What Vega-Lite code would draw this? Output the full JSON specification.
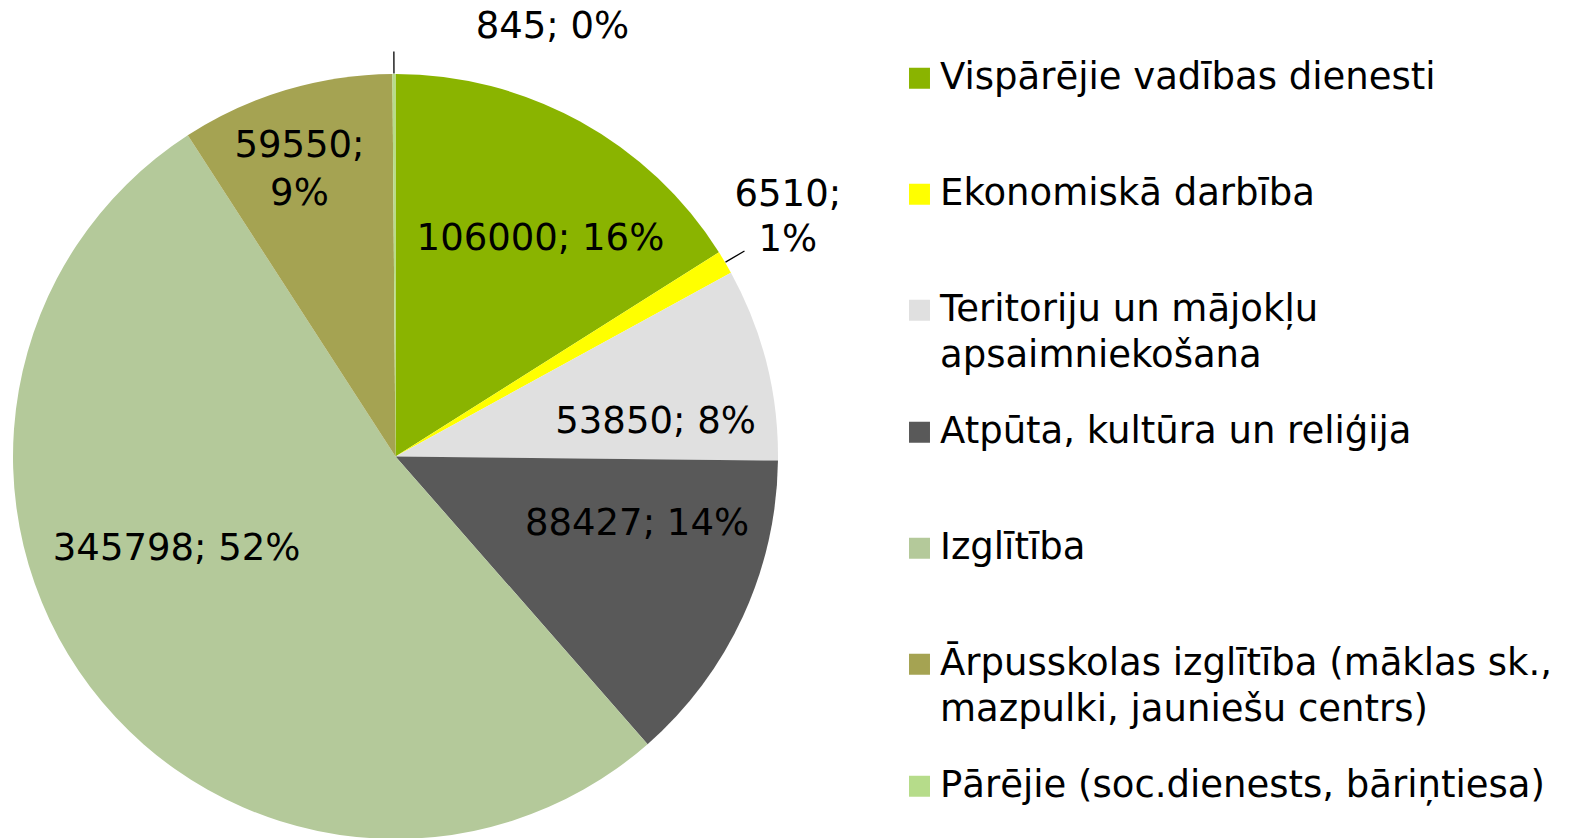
{
  "$schema": "https://vega.github.io/schema/vega-lite/v6.json",
  "autosize": {"type": "none"},
  "width": 765,
  "height": 765,
  "padding": {"left": 13, "top": 74, "right": 796, "bottom": 0},
  "background": "#ffffff",
  "config": {"view": {"stroke": null}},
  "data": {
    "values": [
      {"kategorija": "Vispārējie vadības dienesti", "vertiba": 106000, "etikete": "106000; 16%", "npk": 1},
      {"kategorija": "Ekonomiskā darbība", "vertiba": 6510, "etikete": "6510;\n1%", "npk": 2},
      {"kategorija": "Teritoriju un mājokļu\napsaimniekošana", "vertiba": 53850, "etikete": "53850; 8%", "npk": 3},
      {"kategorija": "Atpūta, kultūra un reliģija", "vertiba": 88427, "etikete": "88427; 14%", "npk": 4},
      {"kategorija": "Izglītība", "vertiba": 345798, "etikete": "345798; 52%", "npk": 5},
      {"kategorija": "Ārpusskolas izglītība (māklas sk.,\nmazpulki, jauniešu centrs)", "vertiba": 59550, "etikete": "59550;\n9%", "npk": 6},
      {"kategorija": "Pārējie (soc.dienests, bāriņtiesa)", "vertiba": 845, "etikete": "845; 0%", "npk": 7}
    ]
  },
  "layer": [
    {
      "mark": {"type": "arc"},
      "encoding": {
        "theta": {"field": "vertiba", "type": "quantitative", "stack": true},
        "order": {"field": "npk", "type": "quantitative"},
        "color": {
          "field": "kategorija",
          "type": "nominal",
          "scale": {
            "domain": [
              "Vispārējie vadības dienesti",
              "Ekonomiskā darbība",
              "Teritoriju un mājokļu\napsaimniekošana",
              "Atpūta, kultūra un reliģija",
              "Izglītība",
              "Ārpusskolas izglītība (māklas sk.,\nmazpulki, jauniešu centrs)",
              "Pārējie (soc.dienests, bāriņtiesa)"
            ],
            "range": ["#8AB400", "#FFFF00", "#E0E0E0", "#595959", "#B4C99A", "#A5A352", "#B6DC8A"]
          },
          "legend": {
            "orient": "none",
            "legendX": 888,
            "legendY": -53.5,
            "title": null,
            "symbolType": "square",
            "symbolSize": 440,
            "symbolStrokeWidth": 0,
            "symbolOpacity": 1,
            "labelFont": "DejaVu Sans",
            "labelFontSize": 37,
            "labelColor": "#000000",
            "labelLimit": 0,
            "clipHeight": 115.5,
            "rowPadding": 0,
            "labelOffset": 2,
            "padding": 0,
            "labelExpr": "split(datum.label, '\\n')",
            "encode": {"labels": {"update": {"lineHeight": {"value": 46}}}}
          }
        }
      }
    },
    {
      "transform": [
        {"stack": "vertiba", "groupby": [], "sort": [{"field": "npk", "order": "ascending"}], "as": ["v0", "v1"]},
        {"filter": "datum.npk == 2 || datum.npk == 7"},
        {"fold": ["v0", "v1"], "as": ["mala", "lenkis"]},
        {"aggregate": [{"op": "mean", "field": "lenkis", "as": "vidus"}], "groupby": ["npk"]}
      ],
      "mark": {"type": "arc", "filled": false, "color": "#000000", "strokeWidth": 1.3},
      "encoding": {
        "theta": {"field": "vidus", "type": "quantitative"},
        "theta2": {"field": "vidus"},
        "radius": {"condition": {"test": "datum.npk == 7", "value": 418}, "value": 405},
        "radius2": {"value": 383}
      }
    },
    {
      "mark": {"type": "text", "radius": 263, "dx": 18, "dy": 13.3, "font": "DejaVu Sans", "fontSize": 37, "align": "center", "baseline": "middle", "color": "#000000", "lineBreak": "\n"},
      "encoding": {
        "theta": {"field": "vertiba", "type": "quantitative", "stack": true},
        "order": {"field": "npk", "type": "quantitative"},
        "text": {"condition": {"test": "datum.npk == 1", "field": "etikete"}, "value": ""}
      }
    },
    {
      "mark": {"type": "text", "radius": 461, "dx": -4.9, "dy": -27.7, "font": "DejaVu Sans", "fontSize": 37, "align": "center", "baseline": "middle", "color": "#000000", "lineBreak": "\n", "lineHeight": 45},
      "encoding": {
        "theta": {"field": "vertiba", "type": "quantitative", "stack": true},
        "order": {"field": "npk", "type": "quantitative"},
        "text": {"condition": {"test": "datum.npk == 2", "field": "etikete"}, "value": ""}
      }
    },
    {
      "mark": {"type": "text", "radius": 261, "dx": 6.9, "dy": 29, "font": "DejaVu Sans", "fontSize": 37, "align": "center", "baseline": "middle", "color": "#000000", "lineBreak": "\n"},
      "encoding": {
        "theta": {"field": "vertiba", "type": "quantitative", "stack": true},
        "order": {"field": "npk", "type": "quantitative"},
        "text": {"condition": {"test": "datum.npk == 3", "field": "etikete"}, "value": ""}
      }
    },
    {
      "mark": {"type": "text", "radius": 247, "dx": 17.1, "dy": -35.2, "font": "DejaVu Sans", "fontSize": 37, "align": "center", "baseline": "middle", "color": "#000000", "lineBreak": "\n"},
      "encoding": {
        "theta": {"field": "vertiba", "type": "quantitative", "stack": true},
        "order": {"field": "npk", "type": "quantitative"},
        "text": {"condition": {"test": "datum.npk == 4", "field": "etikete"}, "value": ""}
      }
    },
    {
      "mark": {"type": "text", "radius": 229, "dx": -36.1, "dy": -45.1, "font": "DejaVu Sans", "fontSize": 37, "align": "center", "baseline": "middle", "color": "#000000", "lineBreak": "\n"},
      "encoding": {
        "theta": {"field": "vertiba", "type": "quantitative", "stack": true},
        "order": {"field": "npk", "type": "quantitative"},
        "text": {"condition": {"test": "datum.npk == 5", "field": "etikete"}, "value": ""}
      }
    },
    {
      "mark": {"type": "text", "radius": 304, "dx": -8.8, "dy": -19.3, "font": "DejaVu Sans", "fontSize": 37, "align": "center", "baseline": "middle", "color": "#000000", "lineBreak": "\n", "lineHeight": 48},
      "encoding": {
        "theta": {"field": "vertiba", "type": "quantitative", "stack": true},
        "order": {"field": "npk", "type": "quantitative"},
        "text": {"condition": {"test": "datum.npk == 6", "field": "etikete"}, "value": ""}
      }
    },
    {
      "mark": {"type": "text", "radius": 432, "dx": 158.7, "dy": 2.2, "font": "DejaVu Sans", "fontSize": 37, "align": "center", "baseline": "middle", "color": "#000000", "lineBreak": "\n"},
      "encoding": {
        "theta": {"field": "vertiba", "type": "quantitative", "stack": true},
        "order": {"field": "npk", "type": "quantitative"},
        "text": {"condition": {"test": "datum.npk == 7", "field": "etikete"}, "value": ""}
      }
    }
  ]
}
